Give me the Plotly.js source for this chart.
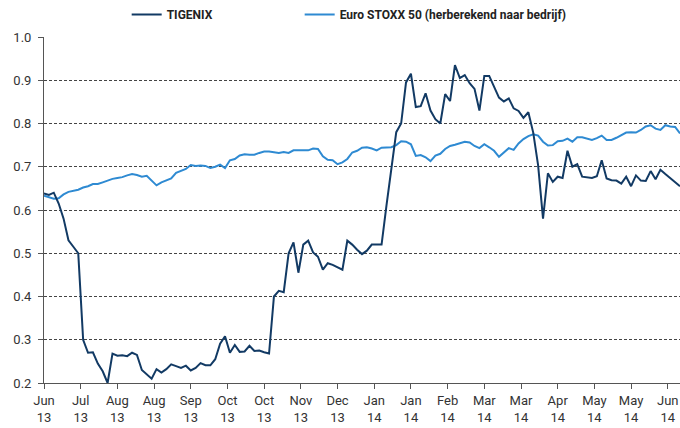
<!DOCTYPE html>
<html>
<head>
<meta charset="utf-8">
<script src="https://cdn.plot.ly/plotly-3.0.1.min.js"></script>
<style>html,body{margin:0;padding:0;background:#fff;}#chart{width:680px;height:428px;}</style>
</head>
<body>
<div id="chart"></div>
<script>
// Tick labels (month / year), one every 15 trading days
const tickMonths = ["Jun","Jul","Aug","Aug","Sep","Oct","Oct","Nov","Dec","Jan","Jan","Feb","Mar","Mar","Apr","May","May","Jun"];
const tickYears  = ["13","13","13","13","13","13","13","13","13","14","14","14","14","14","14","14","14","14"];

// Trading-day index (every 2nd trading day)
const dayIndex = Array.from({length: 131}, (_, i) => i * 2);

const tigenix = [
0.638,0.635,0.640,0.615,0.580,0.530,0.515,0.500,0.300,0.270,
0.271,0.245,0.227,0.200,0.268,0.263,0.264,0.262,0.270,0.265,
0.230,0.220,0.210,0.232,0.224,0.232,0.243,0.239,0.235,0.240,
0.229,0.235,0.246,0.241,0.241,0.255,0.291,0.308,0.270,0.288,
0.272,0.273,0.286,0.274,0.275,0.271,0.268,0.400,0.413,0.410,
0.500,0.525,0.455,0.520,0.529,0.502,0.492,0.462,0.477,0.473,
0.468,0.462,0.529,0.520,0.508,0.498,0.506,0.520,0.520,0.520,
0.610,0.697,0.780,0.800,0.895,0.915,0.838,0.840,0.870,0.830,
0.810,0.800,0.868,0.852,0.935,0.905,0.912,0.893,0.880,0.830,
0.910,0.910,0.885,0.860,0.851,0.858,0.835,0.829,0.813,0.826,
0.779,0.703,0.580,0.685,0.665,0.677,0.674,0.737,0.700,0.706,
0.677,0.676,0.674,0.678,0.715,0.673,0.669,0.668,0.661,0.677,
0.655,0.680,0.668,0.667,0.690,0.671,0.693,0.683,0.673,0.664,
0.655];

const euroStoxx = [
0.633,0.630,0.626,0.627,0.636,0.642,0.645,0.647,0.652,0.655,
0.660,0.660,0.664,0.668,0.672,0.674,0.676,0.680,0.683,0.681,
0.677,0.679,0.668,0.657,0.664,0.668,0.673,0.686,0.691,0.695,
0.704,0.702,0.703,0.702,0.697,0.700,0.705,0.697,0.715,0.718,
0.726,0.729,0.728,0.728,0.732,0.735,0.735,0.734,0.732,0.734,
0.732,0.738,0.738,0.737,0.738,0.742,0.741,0.724,0.716,0.715,
0.706,0.710,0.718,0.733,0.737,0.744,0.745,0.742,0.738,0.744,
0.745,0.745,0.750,0.759,0.758,0.752,0.725,0.727,0.722,0.713,
0.726,0.730,0.741,0.748,0.751,0.754,0.758,0.756,0.748,0.743,
0.752,0.745,0.737,0.723,0.734,0.743,0.739,0.754,0.764,0.771,
0.775,0.772,0.758,0.749,0.750,0.759,0.760,0.765,0.758,0.768,
0.768,0.765,0.762,0.766,0.772,0.762,0.762,0.767,0.774,0.779,
0.780,0.779,0.785,0.793,0.796,0.788,0.785,0.796,0.793,0.792,
0.777];

const seriesNames = ["TIGENIX", "Euro STOXX 50 (herberekend naar bedrijf)"];

const FONT = "Roboto, Arial, sans-serif";
const legendFont = {family: FONT, size: 12, color: "#222222", weight: "bold"};

const traces = [
  {
    x: dayIndex, y: euroStoxx, name: seriesNames[1], type: "scatter", mode: "lines",
    line: {color: "#2e8ad2", width: 2}, legend: "legend2", hoverinfo: "skip"
  },
  {
    x: dayIndex, y: tigenix, name: seriesNames[0], type: "scatter", mode: "lines",
    line: {color: "#123a64", width: 2}, legend: "legend", hoverinfo: "skip"
  }
];

const tickvals = tickMonths.map((_, k) => k * 15);
const ticktext = tickMonths.map((m, k) => m + "<br>" + tickYears[k]);

const layout = {
  width: 680, height: 428,
  margin: {l: 44, r: 0, t: 36, b: 45, pad: 0},
  paper_bgcolor: "#ffffff", plot_bgcolor: "#ffffff",
  font: {family: FONT, size: 13, color: "#333333"},
  showlegend: true,
  legend: {
    orientation: "h", x: 0.13, xanchor: "left", y: 1.065, yanchor: "middle",
    font: legendFont, itemwidth: 30, bgcolor: "rgba(0,0,0,0)"
  },
  legend2: {
    orientation: "h", x: 0.402, xanchor: "left", y: 1.065, yanchor: "middle",
    font: legendFont, itemwidth: 30, bgcolor: "rgba(0,0,0,0)"
  },
  xaxis: {
    range: [0, 260], tickvals: tickvals, ticktext: ticktext,
    showgrid: false, zeroline: false, showline: true, linecolor: "#555555", linewidth: 1,
    ticks: "outside", ticklen: 5, tickcolor: "#555555", tickangle: 0,
    tickfont: {family: FONT, size: 13, color: "#333333"}
  },
  yaxis: {
    range: [0.2, 1.0], dtick: 0.1, tick0: 0.2, tickformat: ".1f",
    showgrid: true, gridcolor: "#444444", gridwidth: 1, griddash: "3px,2px",
    zeroline: false, showline: true, linecolor: "#555555", linewidth: 1,
    ticks: "outside", ticklen: 5, tickcolor: "#555555", ticklabelstandoff: 4,
    tickfont: {family: FONT, size: 13, color: "#333333"}
  }
};

Plotly.newPlot("chart", traces, layout, {staticPlot: true, displayModeBar: false});
</script>
</body>
</html>
